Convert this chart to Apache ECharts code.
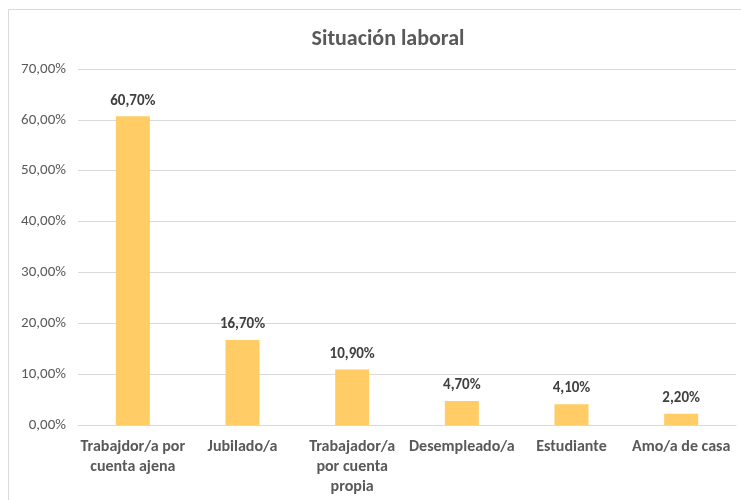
<!DOCTYPE html>
<html><head><meta charset="utf-8">
<script src="https://cdn.jsdelivr.net/npm/echarts@6/dist/echarts.min.js"></script>
<style>html,body{margin:0;padding:0;background:#fff}#c{width:741px;height:500px}</style>
</head><body><div id="c"></div>
<script>
var categories = ['Trabajdor/a por\ncuenta ajena', 'Jubilado/a', 'Trabajador/a\npor cuenta\npropia', 'Desempleado/a', 'Estudiante', 'Amo/a de casa'];
var values = [60.7, 16.7, 10.9, 4.7, 4.1, 2.2];
var titleText = 'Situación laboral';
var FONT = 'Carlito, Lato, "Open Sans", sans-serif';
function pct(v){ return v.toFixed(2).replace('.', ',') + '%'; }
var chart = echarts.init(document.getElementById('c'));
chart.setOption({
  backgroundColor: '#fff',
  animation: false,
  graphic: [{type:'rect', shape:{x:8.5,y:9.5,width:800,height:600}, style:{fill:'none', stroke:'#d9d9d9', lineWidth:1}}],
  title: {text: titleText, left: 383, top: 23, textAlign: 'center',
    textStyle: {fontFamily: FONT, fontSize: 22, fontWeight: 'bold', color: '#595959'}},
  grid: {left: 78, right: 5, top: 69, bottom: 75},
  xAxis: {type: 'category', data: categories,
    axisLine: {show: true, lineStyle: {color: '#d9d9d9'}}, axisTick: {show: false},
    axisLabel: {interval: 0, margin: 12, fontFamily: FONT, fontSize: 16, fontWeight: 'bold', color: '#595959', lineHeight: 20}},
  yAxis: {type: 'value', min: 0, max: 70, interval: 10,
    axisLine: {show: false}, axisTick: {show: false},
    splitLine: {lineStyle: {color: '#d9d9d9'}},
    axisLabel: {formatter: function(v){return pct(v);}, margin: 12, fontFamily: FONT, fontSize: 15, color: '#595959'}},
  series: [{type: 'bar', data: values, barWidth: 34, itemStyle: {color: '#FFCC66'},
    label: {show: true, position: 'top', distance: 8, formatter: function(p){return pct(p.value);},
      fontFamily: FONT, fontSize: 15, fontWeight: 'bold', color: '#404040'}}]
});
</script></body></html>
